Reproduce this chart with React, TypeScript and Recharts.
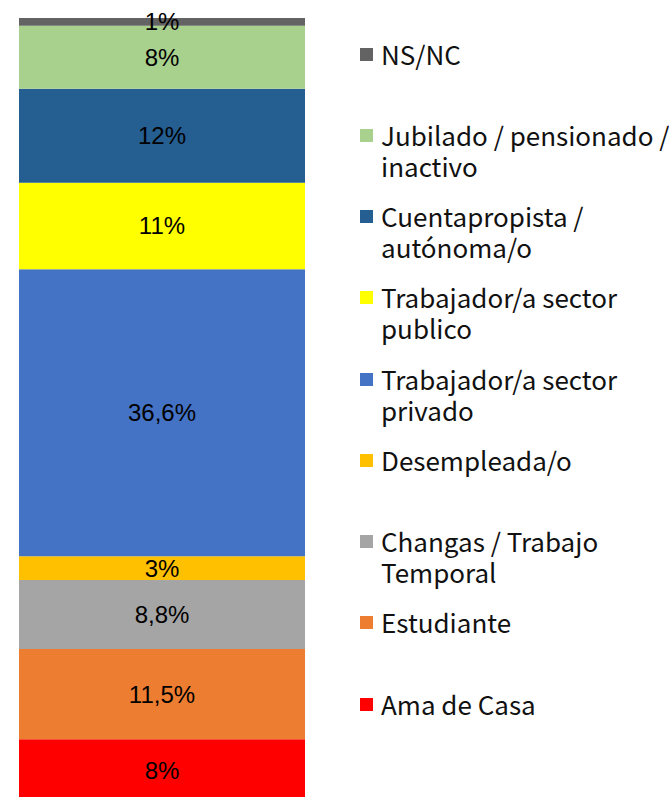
import { BarChart, Bar, XAxis, YAxis, Legend, LabelList } from "recharts";

const categories = ["Total"];

// bottom to top, same order as the stack
const seriesKeys = [
  "ama",
  "estudiante",
  "changas",
  "desempleada",
  "privado",
  "publico",
  "cuentapropista",
  "jubilado",
  "nsnc",
];
const seriesNames = [
  "Ama de Casa",
  "Estudiante",
  "Changas / Trabajo Temporal",
  "Desempleada/o",
  "Trabajador/a sector privado",
  "Trabajador/a sector publico",
  "Cuentapropista / autónoma/o",
  "Jubilado / pensionado / inactivo",
  "NS/NC",
];
const seriesValues = [8, 11.5, 8.8, 3, 36.6, 11, 12, 8, 1];
const seriesColors = [
  "#FF0000",
  "#ED7D31",
  "#A5A5A5",
  "#FFC000",
  "#4472C4",
  "#FFFF00",
  "#255E91",
  "#A9D18E",
  "#636363",
];
// legend text as wrapped in the original
const legendLines = [
  ["Ama de Casa"],
  ["Estudiante"],
  ["Changas / Trabajo", "Temporal"],
  ["Desempleada/o"],
  ["Trabajador/a sector", "privado"],
  ["Trabajador/a sector", "publico"],
  ["Cuentapropista /", "autónoma/o"],
  ["Jubilado / pensionado /", "inactivo"],
  ["NS/NC"],
];

const data = categories.map((c) => {
  const row: any = { name: c };
  seriesKeys.forEach((k, i) => {
    row[k] = seriesValues[i];
  });
  return row;
});
const total = seriesValues.reduce((a, b) => a + b, 0);

const fmt = (v: any) => `${String(v).replace(".", ",")}%`;

const renderLegend = () => {
  // top of legend = top of stack
  const order = seriesKeys.map((_, i) => i).reverse();
  return (
    <div style={{ position: "relative", width: 669, height: 797 }}>
      {order.map((idx, i) => {
        const center = 53 + i * 81.25;
        return (
          <div
            key={seriesKeys[idx]}
            style={{
              position: "absolute",
              left: 360,
              top: center - 15.5,
              fontFamily: "'Noto Sans CJK JP', 'Noto Sans', sans-serif",
              fontSize: 26,
              lineHeight: "31px",
              color: "#111",
              whiteSpace: "nowrap",
            }}
          >
            <span
              style={{
                position: "absolute",
                left: 0,
                top: 10,
                width: 13,
                height: 13,
                background: seriesColors[idx],
              }}
            />
            <div style={{ marginLeft: 21 }}>
              {legendLines[idx].map((l) => (
                <div key={l}>{l}</div>
              ))}
            </div>
          </div>
        );
      })}
    </div>
  );
};

export default function App() {
  return (
    <div
      style={{
        position: "fixed",
        left: 0,
        top: 0,
        width: 669,
        height: 797,
        overflow: "hidden",
        background: "#fff",
      }}
    >
      <BarChart
        width={669}
        height={802}
        data={data}
        margin={{ top: 18, right: 364, bottom: 0, left: 19 }}
        barCategoryGap={0}
      >
        <XAxis dataKey="name" hide />
        <YAxis type="number" domain={[0, total]} hide />
        <Legend
          layout="horizontal"
          verticalAlign="middle"
          align="center"
          wrapperStyle={{ left: 0, top: 0, width: 669, height: 797 }}
          content={renderLegend}
        />
        {seriesKeys.map((k, i) => (
          <Bar
            key={k}
            dataKey={k}
            name={seriesNames[i]}
            stackId="a"
            fill={seriesColors[i]}
            isAnimationActive={false}
          >
            <LabelList
              dataKey={k}
              position="center"
              formatter={fmt}
              fill="#000"
              fontSize={24}
              fontFamily="'Liberation Sans', Arial, sans-serif"
            />
          </Bar>
        ))}
      </BarChart>
    </div>
  );
}
